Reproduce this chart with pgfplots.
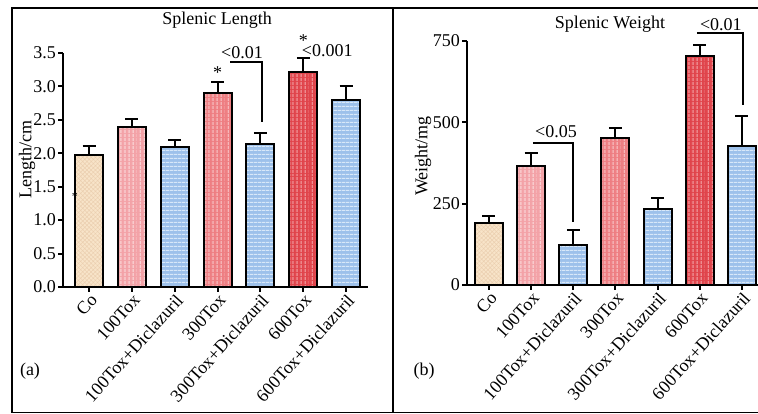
\documentclass[border=0pt]{standalone}
\usepackage{fontspec}
\setmainfont{Liberation Serif}
\usepackage{pgfplots}
\pgfplotsset{compat=1.18}
\usetikzlibrary{patterns.meta}

\newcommand\fsz{\fontsize{18}{20}\selectfont}
\newcommand\fxt{\fontsize{18}{20}\selectfont}

\definecolor{cBeige}{HTML}{F8E4C9}
\definecolor{cBeigeL}{HTML}{EBCFB0}
\definecolor{cPink}{HTML}{F3A2A7}
\definecolor{cPinkL}{HTML}{FAD3D5}
\definecolor{cRose}{HTML}{EE7E82}
\definecolor{cRoseL}{HTML}{F7B8BA}
\definecolor{cRed}{HTML}{E0444B}
\definecolor{cRedL}{HTML}{F08C90}
\definecolor{cBlue}{HTML}{9DC1EB}
\definecolor{cBlueL}{HTML}{D8E8F9}

\pgfplotsset{
  panel/.style={
    scale only axis,
    anchor=south west,
    clip=false,
    axis lines*=left,
    axis line style={-, line width=2pt, black},
    tick style={line width=2pt, black},
    tick align=outside,
    major tick length=5pt,
    xtick={0,...,6},
    xticklabels={Co,100Tox,100Tox+Diclazuril,300Tox,300Tox+Diclazuril,600Tox,600Tox+Diclazuril},
    xticklabel style={rotate=48, anchor=north east, inner sep=0.5pt, font=\fxt},
    yticklabel style={font=\fsz, inner sep=2pt},
    /pgf/number format/assume math mode=true,
  },
  bar/.style={ybar, bar shift=0pt, bar width=28pt, draw=black, line width=2pt,
    error bars/y dir=plus, error bars/y explicit,
    error bars/error bar style={line width=2pt, black},
    error bars/error mark options={rotate=90, mark size=6.5pt, line width=2pt, black}},
  co/.style={bar, preaction={fill=cBeige}, pattern={Hatch[angle=45,distance=3pt,line width=0.5pt]}, pattern color=cBeigeL},
  lo/.style={bar, preaction={fill=cPink}, pattern={Lines[angle=90,distance=4pt,line width=1.2pt]}, pattern color=cPinkL},
  mid/.style={bar, preaction={fill=cRose}, pattern={Lines[angle=90,distance=4pt,line width=1.2pt]}, pattern color=cRoseL},
  hi/.style={bar, preaction={fill=cRed}, pattern={Lines[angle=90,distance=4pt,line width=1.2pt]}, pattern color=cRedL},
  dic/.style={bar, preaction={fill=cBlue}, pattern={Lines[angle=0,distance=4pt,line width=1.2pt]}, pattern color=cBlueL},
  brk/.style={sharp plot, no marks, line width=2pt, black},
}

\begin{document}
\begin{tikzpicture}[x=1pt, y=1pt]
\useasboundingbox (0,0) rectangle (758,414);
\draw[line width=1.5pt] (12,406) rectangle (393,1.5);
\draw[line width=1.5pt] (393,406) -- (758,406);
\draw[line width=1.5pt] (393,1.5) -- (758,1.5);

% (a) splenic length
\begin{axis}[panel,
  at={(63pt,127pt)}, width=305pt, height=234pt,
  xmin=-0.61, xmax=6.51, ymin=0, ymax=3.5,
  ytick={0,0.5,...,3.5},
  yticklabel style={/pgf/number format/.cd, fixed, fixed zerofill, precision=1},
  ylabel={Length/cm},
  every axis y label/.style={at={(axis description cs:-0.118,0.543)}, rotate=90, anchor=center, font=\fsz},
]
\addplot[co]  coordinates {(0,1.97) +- (0,0.14)};
\addplot[lo]  coordinates {(1,2.40) +- (0,0.12)};
\addplot[dic] coordinates {(2,2.10) +- (0,0.10)};
\addplot[mid] coordinates {(3,2.90) +- (0,0.17)};
\addplot[dic] coordinates {(4,2.14) +- (0,0.16)};
\addplot[hi]  coordinates {(5,3.22) +- (0,0.20)};
\addplot[dic] coordinates {(6,2.80) +- (0,0.20)};
\addplot[brk] coordinates {(3.29,3.37) (4.04,3.37) (4.04,2.47)};
\node[font=\fsz] at (axis cs:3.57,3.51) {<0.01};
\node[font=\fsz] at (axis cs:5.56,3.54) {<0.001};
\node[font=\fsz] at (axis cs:3,3.20) {*};
\node[font=\fsz] at (axis cs:5,3.69) {*};
\node[font=\fontsize{12}{12}\selectfont] at (axis cs:-0.33,1.35) {*};
\end{axis}
\node[font=\fsz] at (217,394) {Splenic Length};
\node[font=\fsz] at (30,43) {(a)};

% (b) splenic weight
\begin{axis}[panel,
  at={(467pt,129pt)}, width=291pt, height=244.3pt,
  xmin=-0.52, xmax=6.38, ymin=0, ymax=750,
  ytick={0,250,500,750},
  ylabel={Weight/mg},
  every axis y label/.style={at={(axis description cs:-0.151,0.528)}, rotate=90, anchor=center, font=\fsz},
]
\addplot[co]  coordinates {(0,191) +- (0,21)};
\addplot[lo]  coordinates {(1,366) +- (0,40)};
\addplot[dic] coordinates {(2,123) +- (0,46)};
\addplot[mid] coordinates {(3,450) +- (0,33)};
\addplot[dic] coordinates {(4,232) +- (0,34)};
\addplot[hi]  coordinates {(5,703) +- (0,34)};
\addplot[dic] coordinates {(6,428) +- (0,92)};
\addplot[brk] coordinates {(1.04,435) (1.99,435) (1.99,194)};
\addplot[brk] coordinates {(4.93,773) (6.02,773) (6.02,553)};
\node[font=\fsz] at (axis cs:1.59,470) {<0.05};
\node[font=\fsz] at (axis cs:5.50,798) {<0.01};
\end{axis}
\node[font=\fsz] at (610,390) {Splenic Weight};
\node[font=\fsz] at (424,43) {(b)};
\end{tikzpicture}
\end{document}
